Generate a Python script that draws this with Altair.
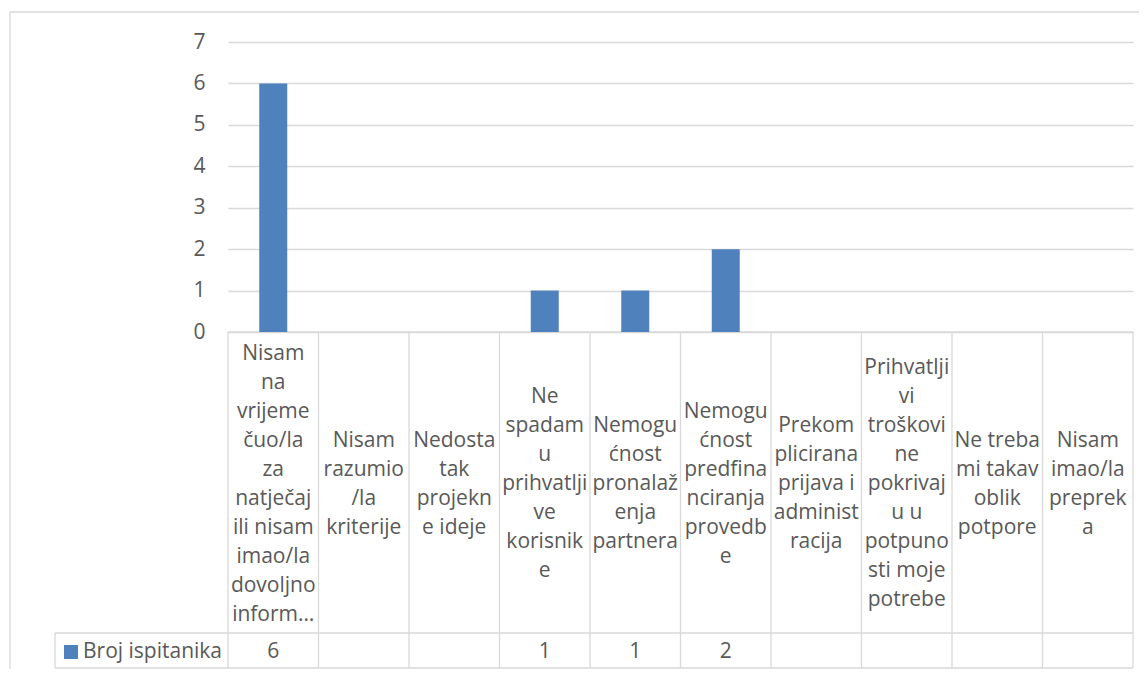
import altair as alt
import pandas as pd

series_name = "Broj ispitanika"
label_lines = [
    ["Nisam", "na", "vrijeme", "čuo/la", "za", "natječaj", "ili nisam", "imao/la", "dovoljno", "inform…"],
    ["Nisam", "razumio", "/la", "kriterije"],
    ["Nedosta", "tak", "projekn", "e ideje"],
    ["Ne", "spadam", "u", "prihvatlji", "ve", "korisnik", "e"],
    ["Nemogu", "ćnost", "pronalaž", "enja", "partnera"],
    ["Nemogu", "ćnost", "predfina", "nciranja", "provedb", "e"],
    ["Prekom", "plicirana", "prijava i", "administ", "racija"],
    ["Prihvatlji", "vi", "troškovi", "ne", "pokrivaj", "u u", "potpuno", "sti moje", "potrebe"],
    ["Ne treba", "mi takav", "oblik", "potpore"],
    ["Nisam", "imao/la", "preprek", "a"],
]
values = [6, None, None, 1, 1, 2, None, None, None, None]
y_ticks = [0, 1, 2, 3, 4, 5, 6, 7]

categories = [" ".join(l) for l in label_lines]
df = pd.DataFrame({
    "cat": categories,
    "label": ["\n".join(l) for l in label_lines],
    "value": values,
})

FONT = "Open Sans"
FS = 21
LH = 29
TXT = "#595959"
GRID = "#d9d9d9"
BLUE = "#4f81bd"
W, H = 905, 290
SW = 1.3
BOT = 626

xenc = alt.X("cat:N", sort=categories,
             scale=alt.Scale(paddingInner=0, paddingOuter=0), axis=None)

base = alt.Chart(df)

bars = base.transform_filter("datum.value != null").mark_bar(color=BLUE, width=28).encode(
    x=xenc,
    y=alt.Y("value:Q", scale=alt.Scale(domain=[0, 7]),
            axis=alt.Axis(values=y_ticks, grid=True, gridColor=GRID, gridWidth=SW,
                          domain=False, ticks=False, labelPadding=23,
                          labelFontSize=FS, labelFont=FONT, labelColor=TXT, title=None)),
)

col_rules = base.mark_rule(color=GRID, strokeWidth=SW).encode(
    x=alt.X("cat:N", sort=categories, bandPosition=0,
            scale=alt.Scale(paddingInner=0, paddingOuter=0), axis=None),
    y=alt.value(H), y2=alt.value(BOT),
)

one = pd.DataFrame({"a": [0]})
def rule(**kw):
    return alt.Chart(one).mark_rule(color=GRID, strokeWidth=SW).encode(
        **{k: alt.value(v) for k, v in kw.items()})

right_rule = rule(x=W, y=H, y2=BOT)
h0 = rule(x=0, x2=W, y=H)
h1 = rule(x=-173, x2=W, y=591)
h2 = rule(x=-173, x2=W, y=BOT)
v_leg = rule(x=-173, y=591, y2=BOT)
frame_top = rule(x=-218, x2=1000, y=-30)
frame_left = rule(x=-218, y=-30, y2=800)

cat_text = base.transform_calculate(
    off=f"-(length(split(datum.label, '\\n')) - 1) * {LH / 2}"
).mark_text(lineBreak="\n", baseline="middle", align="center",
            fontSize=FS, font=FONT, color=TXT, lineHeight=LH).encode(
    x=xenc, y=alt.value(442), yOffset=alt.YOffset("off:Q", scale=None),
    text="label:N")

val_text = base.transform_filter("datum.value != null").mark_text(
    baseline="middle", align="center", fontSize=FS, font=FONT, color=TXT).encode(
    x=xenc, y=alt.value(610), text="value:Q")

swatch = alt.Chart(one).mark_rect(color=BLUE).encode(
    x=alt.value(-164), x2=alt.value(-150), y=alt.value(603), y2=alt.value(617))
leg_text = alt.Chart(one).mark_text(align="left", baseline="middle", fontSize=FS,
                                    font=FONT, color=TXT).encode(
    x=alt.value(-145), y=alt.value(610), text=alt.value(series_name))

chart = alt.layer(
    frame_top, frame_left, col_rules, right_rule, h0, h1, h2, v_leg,
    bars, cat_text, val_text, swatch, leg_text,
).properties(
    width=W, height=H,
    autosize=alt.AutoSizeParams(type="none"),
    padding={"left": 220, "top": 34, "right": 6, "bottom": 337},
).configure_view(stroke=None)

chart.save("out.html", embed_options={"renderer": "svg", "actions": False})
